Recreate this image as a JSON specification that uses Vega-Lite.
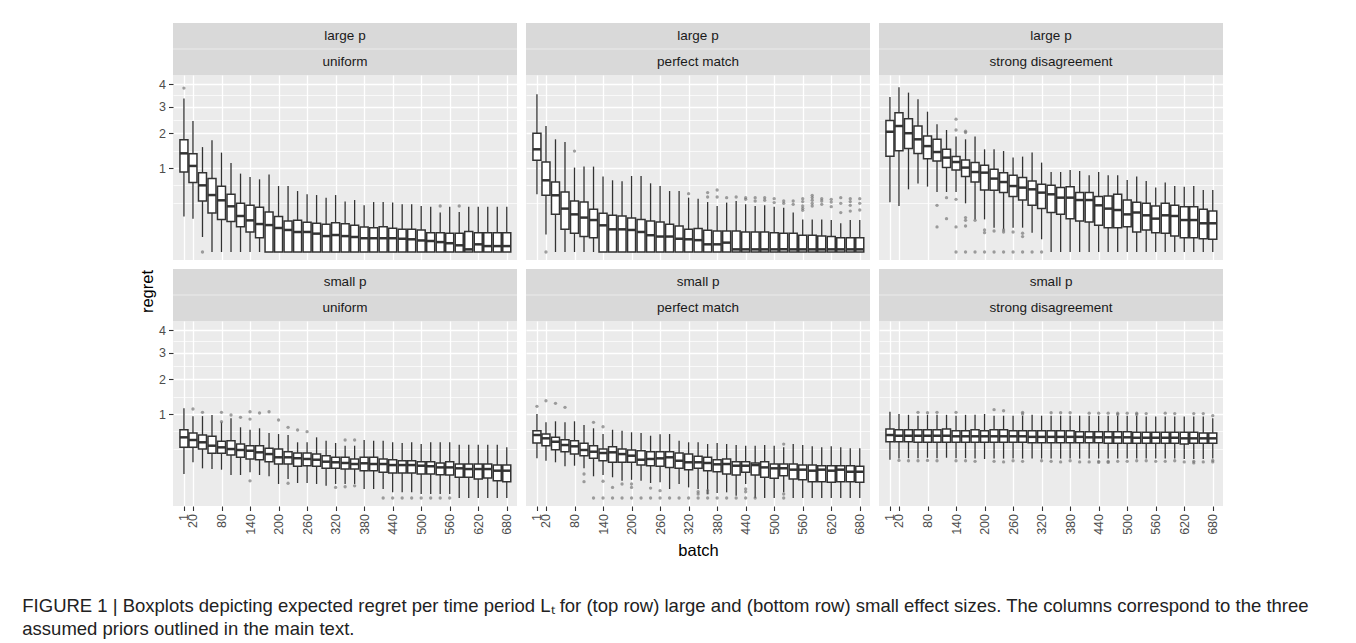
{
"$schema": "https://vega.github.io/schema/vega-lite/v6.json",
"background": "white",
"padding": {"left": 22, "top": 23, "right": 5, "bottom": 0},
"autosize": {"type": "pad"},
"title": {"text": ["FIGURE 1 | Boxplots depicting expected regret per time period Lₜ for (top row) large and (bottom row) small effect sizes. The columns correspond to the three", "assumed priors outlined in the main text."], "orient": "bottom", "anchor": "start", "frame": "group", "dx": -150.7, "offset": 38, "fontSize": 18.5, "fontWeight": "normal", "font": "Liberation Sans", "color": "#222222", "lineHeight": 23},
"datasets": {
"stats": [
{"panel":"LU","batch":1,"lo":0.178,"q1":0.907,"med":1.38,"q3":1.79,"hi":3.34},
{"panel":"LU","batch":20,"lo":0.158,"q1":0.683,"med":1.05,"q3":1.37,"hi":2.43},
{"panel":"LU","batch":40,"lo":0.032,"q1":0.369,"med":0.63,"q3":0.893,"hi":1.56},
{"panel":"LU","batch":60,"lo":0,"q1":0.216,"med":0.46,"q3":0.764,"hi":1.77},
{"panel":"LU","batch":80,"lo":0,"q1":0.151,"med":0.379,"q3":0.612,"hi":1.4},
{"panel":"LU","batch":100,"lo":0,"q1":0.131,"med":0.296,"q3":0.472,"hi":1.12},
{"panel":"LU","batch":120,"lo":0,"q1":0.091,"med":0.184,"q3":0.336,"hi":0.871},
{"panel":"LU","batch":140,"lo":0,"q1":0.057,"med":0.142,"q3":0.309,"hi":0.797},
{"panel":"LU","batch":160,"lo":0,"q1":0.029,"med":0.111,"q3":0.283,"hi":0.749},
{"panel":"LU","batch":180,"lo":0,"q1":0,"med":0.103,"q3":0.227,"hi":0.849},
{"panel":"LU","batch":200,"lo":0,"q1":0,"med":0.082,"q3":0.178,"hi":0.617},
{"panel":"LU","batch":220,"lo":0,"q1":0,"med":0.069,"q3":0.136,"hi":0.617},
{"panel":"LU","batch":240,"lo":0,"q1":0,"med":0.057,"q3":0.142,"hi":0.527},
{"panel":"LU","batch":260,"lo":0,"q1":0,"med":0.057,"q3":0.125,"hi":0.472},
{"panel":"LU","batch":280,"lo":0,"q1":0,"med":0.048,"q3":0.117,"hi":0.46},
{"panel":"LU","batch":300,"lo":0,"q1":0,"med":0.036,"q3":0.109,"hi":0.419},
{"panel":"LU","batch":320,"lo":0,"q1":0,"med":0.041,"q3":0.122,"hi":0.46},
{"panel":"LU","batch":340,"lo":0,"q1":0,"med":0.036,"q3":0.114,"hi":0.36},
{"panel":"LU","batch":360,"lo":0,"q1":0,"med":0.032,"q3":0.101,"hi":0.383},
{"panel":"LU","batch":380,"lo":0,"q1":0,"med":0.027,"q3":0.089,"hi":0.309},
{"panel":"LU","batch":400,"lo":0,"q1":0,"med":0.027,"q3":0.084,"hi":0.354},
{"panel":"LU","batch":420,"lo":0,"q1":0,"med":0.027,"q3":0.091,"hi":0.354},
{"panel":"LU","batch":440,"lo":0,"q1":0,"med":0.027,"q3":0.08,"hi":0.346},
{"panel":"LU","batch":460,"lo":0,"q1":0,"med":0.025,"q3":0.073,"hi":0.322},
{"panel":"LU","batch":480,"lo":0,"q1":0,"med":0.023,"q3":0.073,"hi":0.322},
{"panel":"LU","batch":500,"lo":0,"q1":0,"med":0.019,"q3":0.069,"hi":0.3},
{"panel":"LU","batch":520,"lo":0,"q1":0,"med":0.017,"q3":0.053,"hi":0.292},
{"panel":"LU","batch":540,"lo":0,"q1":0,"med":0.014,"q3":0.053,"hi":0.22},
{"panel":"LU","batch":560,"lo":0,"q1":0,"med":0.011,"q3":0.05,"hi":0.292},
{"panel":"LU","batch":580,"lo":0,"q1":0,"med":0.0064,"q3":0.05,"hi":0.227},
{"panel":"LU","batch":600,"lo":0,"q1":0,"med":0.001,"q3":0.059,"hi":0.292},
{"panel":"LU","batch":620,"lo":0,"q1":0,"med":0.0084,"q3":0.053,"hi":0.292},
{"panel":"LU","batch":640,"lo":0,"q1":0,"med":0.005,"q3":0.053,"hi":0.292},
{"panel":"LU","batch":660,"lo":0,"q1":0,"med":0.005,"q3":0.053,"hi":0.292},
{"panel":"LU","batch":680,"lo":0,"q1":0,"med":0.005,"q3":0.053,"hi":0.292},
{"panel":"LP","batch":1,"lo":0.472,"q1":1.192,"med":1.495,"q3":1.997,"hi":3.525},
{"panel":"LP","batch":20,"lo":0.044,"q1":0.456,"med":0.729,"q3":1.148,"hi":2.25},
{"panel":"LP","batch":40,"lo":0,"q1":0.201,"med":0.456,"q3":0.694,"hi":1.8},
{"panel":"LP","batch":60,"lo":0,"q1":0.073,"med":0.267,"q3":0.51,"hi":1.715},
{"panel":"LP","batch":80,"lo":0,"q1":0.05,"med":0.201,"q3":0.369,"hi":1.01},
{"panel":"LP","batch":100,"lo":0,"q1":0.034,"med":0.168,"q3":0.354,"hi":1.034},
{"panel":"LP","batch":120,"lo":0,"q1":0.029,"med":0.145,"q3":0.258,"hi":1.034},
{"panel":"LP","batch":140,"lo":0,"q1":0,"med":0.101,"q3":0.212,"hi":0.806},
{"panel":"LP","batch":160,"lo":0,"q1":0,"med":0.073,"q3":0.191,"hi":0.729},
{"panel":"LP","batch":180,"lo":0,"q1":0,"med":0.073,"q3":0.184,"hi":0.708},
{"panel":"LP","batch":200,"lo":0,"q1":0,"med":0.069,"q3":0.164,"hi":0.819},
{"panel":"LP","batch":220,"lo":0,"q1":0,"med":0.057,"q3":0.151,"hi":0.819},
{"panel":"LP","batch":240,"lo":0,"q1":0,"med":0.04,"q3":0.136,"hi":0.669},
{"panel":"LP","batch":260,"lo":0,"q1":0,"med":0.034,"q3":0.128,"hi":0.617},
{"panel":"LP","batch":280,"lo":0,"q1":0,"med":0.034,"q3":0.109,"hi":0.527},
{"panel":"LP","batch":300,"lo":0,"q1":0,"med":0.025,"q3":0.096,"hi":0.527},
{"panel":"LP","batch":320,"lo":0,"q1":0,"med":0.023,"q3":0.073,"hi":0.419},
{"panel":"LP","batch":340,"lo":0,"q1":0,"med":0.02,"q3":0.078,"hi":0.404},
{"panel":"LP","batch":360,"lo":0,"q1":0,"med":0.0084,"q3":0.067,"hi":0.354},
{"panel":"LP","batch":380,"lo":0,"q1":0,"med":0.0084,"q3":0.0625,"hi":0.3},
{"panel":"LP","batch":400,"lo":0,"q1":0,"med":0.0125,"q3":0.0625,"hi":0.346},
{"panel":"LP","batch":420,"lo":0,"q1":0,"med":0.001,"q3":0.0625,"hi":0.369},
{"panel":"LP","batch":440,"lo":0,"q1":0,"med":0.001,"q3":0.057,"hi":0.322},
{"panel":"LP","batch":460,"lo":0,"q1":0,"med":0.001,"q3":0.057,"hi":0.3},
{"panel":"LP","batch":480,"lo":0,"q1":0,"med":0.001,"q3":0.057,"hi":0.309},
{"panel":"LP","batch":500,"lo":0,"q1":0,"med":0.001,"q3":0.053,"hi":0.292},
{"panel":"LP","batch":520,"lo":0,"q1":0,"med":0.001,"q3":0.05,"hi":0.279},
{"panel":"LP","batch":540,"lo":0,"q1":0,"med":0.001,"q3":0.05,"hi":0.22},
{"panel":"LP","batch":560,"lo":0,"q1":0,"med":0.001,"q3":0.04,"hi":0.151},
{"panel":"LP","batch":580,"lo":0,"q1":0,"med":0.001,"q3":0.04,"hi":0.151},
{"panel":"LP","batch":600,"lo":0,"q1":0,"med":0.001,"q3":0.036,"hi":0.151},
{"panel":"LP","batch":620,"lo":0,"q1":0,"med":0.001,"q3":0.034,"hi":0.145},
{"panel":"LP","batch":640,"lo":0,"q1":0,"med":0.001,"q3":0.029,"hi":0.117},
{"panel":"LP","batch":660,"lo":0,"q1":0,"med":0.001,"q3":0.029,"hi":0.145},
{"panel":"LP","batch":680,"lo":0,"q1":0,"med":0.001,"q3":0.029,"hi":0.145},
{"panel":"LS","batch":1,"lo":0.35,"q1":1.3,"med":2.05,"q3":2.45,"hi":3.4},
{"panel":"LS","batch":20,"lo":0.3,"q1":1.45,"med":2.25,"q3":2.75,"hi":3.85},
{"panel":"LS","batch":40,"lo":0.557,"q1":1.515,"med":2.0,"q3":2.52,"hi":3.6},
{"panel":"LS","batch":60,"lo":0.663,"q1":1.372,"med":1.8,"q3":2.25,"hi":3.31},
{"panel":"LS","batch":80,"lo":0.606,"q1":1.236,"med":1.59,"q3":1.91,"hi":2.79},
{"panel":"LS","batch":100,"lo":0.51,"q1":1.174,"med":1.417,"q3":1.8,"hi":2.31},
{"panel":"LS","batch":120,"lo":0.51,"q1":1.01,"med":1.263,"q3":1.495,"hi":2.11},
{"panel":"LS","batch":140,"lo":0.51,"q1":0.953,"med":1.148,"q3":1.29,"hi":1.89},
{"panel":"LS","batch":160,"lo":0.336,"q1":0.806,"med":1.01,"q3":1.2,"hi":1.8},
{"panel":"LS","batch":180,"lo":0.151,"q1":0.694,"med":0.907,"q3":1.133,"hi":1.89},
{"panel":"LS","batch":200,"lo":0.151,"q1":0.545,"med":0.893,"q3":1.065,"hi":1.495},
{"panel":"LS","batch":220,"lo":0.084,"q1":0.54,"med":0.764,"q3":0.97,"hi":1.495},
{"panel":"LS","batch":240,"lo":0.073,"q1":0.5,"med":0.694,"q3":0.893,"hi":1.445},
{"panel":"LS","batch":260,"lo":0.084,"q1":0.435,"med":0.617,"q3":0.834,"hi":1.263},
{"panel":"LS","batch":280,"lo":0.084,"q1":0.383,"med":0.588,"q3":0.785,"hi":1.29},
{"panel":"LS","batch":300,"lo":0.053,"q1":0.309,"med":0.557,"q3":0.714,"hi":1.4},
{"panel":"LS","batch":320,"lo":0.023,"q1":0.267,"med":0.5,"q3":0.65,"hi":1.133},
{"panel":"LS","batch":340,"lo":0,"q1":0.22,"med":0.472,"q3":0.63,"hi":0.907},
{"panel":"LS","batch":360,"lo":0,"q1":0.201,"med":0.419,"q3":0.588,"hi":0.907},
{"panel":"LS","batch":380,"lo":0,"q1":0.158,"med":0.419,"q3":0.606,"hi":0.953},
{"panel":"LS","batch":400,"lo":0,"q1":0.136,"med":0.383,"q3":0.5,"hi":0.93},
{"panel":"LS","batch":420,"lo":0,"q1":0.128,"med":0.383,"q3":0.5,"hi":0.834},
{"panel":"LS","batch":440,"lo":0,"q1":0.101,"med":0.309,"q3":0.435,"hi":0.907},
{"panel":"LS","batch":460,"lo":0,"q1":0.084,"med":0.267,"q3":0.445,"hi":0.834},
{"panel":"LS","batch":480,"lo":0,"q1":0.084,"med":0.25,"q3":0.472,"hi":0.834},
{"panel":"LS","batch":500,"lo":0,"q1":0.091,"med":0.201,"q3":0.383,"hi":0.735},
{"panel":"LS","batch":520,"lo":0,"q1":0.057,"med":0.22,"q3":0.35,"hi":0.806},
{"panel":"LS","batch":540,"lo":0,"q1":0.069,"med":0.191,"q3":0.336,"hi":0.714},
{"panel":"LS","batch":560,"lo":0,"q1":0.053,"med":0.158,"q3":0.3,"hi":0.588},
{"panel":"LS","batch":580,"lo":0,"q1":0.05,"med":0.191,"q3":0.336,"hi":0.683},
{"panel":"LS","batch":600,"lo":0,"q1":0.036,"med":0.184,"q3":0.309,"hi":0.617},
{"panel":"LS","batch":620,"lo":0,"q1":0.029,"med":0.145,"q3":0.292,"hi":0.606},
{"panel":"LS","batch":640,"lo":0,"q1":0.029,"med":0.145,"q3":0.292,"hi":0.617},
{"panel":"LS","batch":660,"lo":0,"q1":0.025,"med":0.117,"q3":0.258,"hi":0.545},
{"panel":"LS","batch":680,"lo":0,"q1":0.023,"med":0.117,"q3":0.238,"hi":0.545},
{"panel":"SU","batch":1,"lo":0.082,"q1":0.364,"med":0.522,"q3":0.661,"hi":1.14},
{"panel":"SU","batch":20,"lo":0.181,"q1":0.364,"med":0.477,"q3":0.599,"hi":0.946},
{"panel":"SU","batch":40,"lo":0.125,"q1":0.34,"med":0.44,"q3":0.5625,"hi":0.95},
{"panel":"SU","batch":60,"lo":0.119,"q1":0.283,"med":0.388,"q3":0.54,"hi":0.976},
{"panel":"SU","batch":80,"lo":0.114,"q1":0.283,"med":0.364,"q3":0.456,"hi":0.812},
{"panel":"SU","batch":100,"lo":0.075,"q1":0.262,"med":0.34,"q3":0.465,"hi":0.9},
{"panel":"SU","batch":120,"lo":0.075,"q1":0.235,"med":0.327,"q3":0.413,"hi":0.709},
{"panel":"SU","batch":140,"lo":0.094,"q1":0.216,"med":0.317,"q3":0.388,"hi":0.661},
{"panel":"SU","batch":160,"lo":0.075,"q1":0.208,"med":0.296,"q3":0.388,"hi":0.689},
{"panel":"SU","batch":180,"lo":0.067,"q1":0.187,"med":0.274,"q3":0.35,"hi":0.599},
{"panel":"SU","batch":200,"lo":0.028,"q1":0.164,"med":0.235,"q3":0.34,"hi":0.58},
{"panel":"SU","batch":220,"lo":0.051,"q1":0.164,"med":0.235,"q3":0.304,"hi":0.5625},
{"panel":"SU","batch":240,"lo":0.032,"q1":0.142,"med":0.223,"q3":0.287,"hi":0.44},
{"panel":"SU","batch":260,"lo":0.032,"q1":0.148,"med":0.216,"q3":0.287,"hi":0.44},
{"panel":"SU","batch":280,"lo":0.028,"q1":0.142,"med":0.208,"q3":0.274,"hi":0.522},
{"panel":"SU","batch":300,"lo":0.021,"q1":0.125,"med":0.187,"q3":0.254,"hi":0.465},
{"panel":"SU","batch":320,"lo":0.028,"q1":0.125,"med":0.181,"q3":0.235,"hi":0.429},
{"panel":"SU","batch":340,"lo":0.028,"q1":0.119,"med":0.174,"q3":0.235,"hi":0.388},
{"panel":"SU","batch":360,"lo":0.028,"q1":0.119,"med":0.164,"q3":0.216,"hi":0.388},
{"panel":"SU","batch":380,"lo":0.0115,"q1":0.106,"med":0.171,"q3":0.235,"hi":0.477},
{"panel":"SU","batch":400,"lo":0.0115,"q1":0.106,"med":0.164,"q3":0.235,"hi":0.465},
{"panel":"SU","batch":420,"lo":0.0115,"q1":0.094,"med":0.164,"q3":0.216,"hi":0.465},
{"panel":"SU","batch":440,"lo":0.0046,"q1":0.089,"med":0.154,"q3":0.208,"hi":0.44},
{"panel":"SU","batch":460,"lo":0.0046,"q1":0.089,"med":0.154,"q3":0.197,"hi":0.429},
{"panel":"SU","batch":480,"lo":0.0046,"q1":0.089,"med":0.154,"q3":0.197,"hi":0.44},
{"panel":"SU","batch":500,"lo":0.0023,"q1":0.082,"med":0.148,"q3":0.187,"hi":0.413},
{"panel":"SU","batch":520,"lo":0.0023,"q1":0.082,"med":0.142,"q3":0.187,"hi":0.44},
{"panel":"SU","batch":540,"lo":0.0023,"q1":0.077,"med":0.133,"q3":0.174,"hi":0.44},
{"panel":"SU","batch":560,"lo":0.0023,"q1":0.075,"med":0.133,"q3":0.187,"hi":0.44},
{"panel":"SU","batch":580,"lo":0,"q1":0.061,"med":0.125,"q3":0.164,"hi":0.403},
{"panel":"SU","batch":600,"lo":0,"q1":0.061,"med":0.119,"q3":0.164,"hi":0.403},
{"panel":"SU","batch":620,"lo":0,"q1":0.051,"med":0.119,"q3":0.164,"hi":0.403},
{"panel":"SU","batch":640,"lo":0,"q1":0.057,"med":0.119,"q3":0.164,"hi":0.403},
{"panel":"SU","batch":660,"lo":0,"q1":0.042,"med":0.106,"q3":0.154,"hi":0.403},
{"panel":"SU","batch":680,"lo":0,"q1":0.038,"med":0.106,"q3":0.154,"hi":0.364},
{"panel":"SP","batch":1,"lo":0.223,"q1":0.429,"med":0.5625,"q3":0.642,"hi":1.0},
{"panel":"SP","batch":20,"lo":0.197,"q1":0.388,"med":0.505,"q3":0.58,"hi":0.812},
{"panel":"SP","batch":40,"lo":0.181,"q1":0.331,"med":0.449,"q3":0.522,"hi":0.834},
{"panel":"SP","batch":60,"lo":0.142,"q1":0.304,"med":0.398,"q3":0.482,"hi":0.812},
{"panel":"SP","batch":80,"lo":0.148,"q1":0.274,"med":0.379,"q3":0.465,"hi":0.834},
{"panel":"SP","batch":100,"lo":0.125,"q1":0.254,"med":0.327,"q3":0.424,"hi":0.755},
{"panel":"SP","batch":120,"lo":0.067,"q1":0.223,"med":0.304,"q3":0.388,"hi":0.689},
{"panel":"SP","batch":140,"lo":0.075,"q1":0.197,"med":0.287,"q3":0.34,"hi":0.58},
{"panel":"SP","batch":160,"lo":0.061,"q1":0.181,"med":0.296,"q3":0.373,"hi":0.661},
{"panel":"SP","batch":180,"lo":0.042,"q1":0.181,"med":0.274,"q3":0.34,"hi":0.642},
{"panel":"SP","batch":200,"lo":0.047,"q1":0.181,"med":0.254,"q3":0.327,"hi":0.612},
{"panel":"SP","batch":220,"lo":0.042,"q1":0.154,"med":0.208,"q3":0.317,"hi":0.599},
{"panel":"SP","batch":240,"lo":0.032,"q1":0.148,"med":0.216,"q3":0.304,"hi":0.55},
{"panel":"SP","batch":260,"lo":0.035,"q1":0.142,"med":0.223,"q3":0.304,"hi":0.575},
{"panel":"SP","batch":280,"lo":0.0115,"q1":0.133,"med":0.235,"q3":0.304,"hi":0.58},
{"panel":"SP","batch":300,"lo":0.028,"q1":0.125,"med":0.197,"q3":0.287,"hi":0.465},
{"panel":"SP","batch":320,"lo":0.016,"q1":0.114,"med":0.181,"q3":0.274,"hi":0.44},
{"panel":"SP","batch":340,"lo":0.0115,"q1":0.125,"med":0.181,"q3":0.246,"hi":0.44},
{"panel":"SP","batch":360,"lo":0.0023,"q1":0.106,"med":0.174,"q3":0.235,"hi":0.413},
{"panel":"SP","batch":380,"lo":0.0035,"q1":0.098,"med":0.161,"q3":0.208,"hi":0.429},
{"panel":"SP","batch":400,"lo":0.0046,"q1":0.082,"med":0.164,"q3":0.216,"hi":0.413},
{"panel":"SP","batch":420,"lo":0.0007,"q1":0.075,"med":0.148,"q3":0.187,"hi":0.398},
{"panel":"SP","batch":440,"lo":0.028,"q1":0.094,"med":0.148,"q3":0.187,"hi":0.388},
{"panel":"SP","batch":460,"lo":0,"q1":0.075,"med":0.154,"q3":0.174,"hi":0.388},
{"panel":"SP","batch":480,"lo":0,"q1":0.061,"med":0.133,"q3":0.187,"hi":0.398},
{"panel":"SP","batch":500,"lo":0,"q1":0.055,"med":0.125,"q3":0.164,"hi":0.388},
{"panel":"SP","batch":520,"lo":0.0046,"q1":0.07,"med":0.125,"q3":0.164,"hi":0.364},
{"panel":"SP","batch":540,"lo":0,"q1":0.051,"med":0.114,"q3":0.164,"hi":0.413},
{"panel":"SP","batch":560,"lo":0,"q1":0.047,"med":0.114,"q3":0.154,"hi":0.398},
{"panel":"SP","batch":580,"lo":0,"q1":0.038,"med":0.106,"q3":0.154,"hi":0.379},
{"panel":"SP","batch":600,"lo":0,"q1":0.038,"med":0.114,"q3":0.148,"hi":0.364},
{"panel":"SP","batch":620,"lo":0,"q1":0.035,"med":0.106,"q3":0.148,"hi":0.379},
{"panel":"SP","batch":640,"lo":0,"q1":0.038,"med":0.114,"q3":0.148,"hi":0.364},
{"panel":"SP","batch":660,"lo":0,"q1":0.038,"med":0.098,"q3":0.148,"hi":0.35},
{"panel":"SP","batch":680,"lo":0,"q1":0.035,"med":0.098,"q3":0.142,"hi":0.35},
{"panel":"SS","batch":1,"lo":0.208,"q1":0.449,"med":0.5625,"q3":0.675,"hi":1.055},
{"panel":"SS","batch":20,"lo":0.22,"q1":0.449,"med":0.55,"q3":0.661,"hi":1.0},
{"panel":"SS","batch":40,"lo":0.225,"q1":0.449,"med":0.55,"q3":0.661,"hi":0.98},
{"panel":"SS","batch":60,"lo":0.225,"q1":0.44,"med":0.55,"q3":0.661,"hi":0.96},
{"panel":"SS","batch":80,"lo":0.23,"q1":0.44,"med":0.55,"q3":0.661,"hi":0.98},
{"panel":"SS","batch":100,"lo":0.225,"q1":0.44,"med":0.55,"q3":0.661,"hi":0.98},
{"panel":"SS","batch":120,"lo":0.23,"q1":0.44,"med":0.55,"q3":0.675,"hi":0.98},
{"panel":"SS","batch":140,"lo":0.225,"q1":0.44,"med":0.54,"q3":0.642,"hi":0.96},
{"panel":"SS","batch":160,"lo":0.225,"q1":0.44,"med":0.54,"q3":0.642,"hi":0.98},
{"panel":"SS","batch":180,"lo":0.22,"q1":0.44,"med":0.54,"q3":0.661,"hi":0.98},
{"panel":"SS","batch":200,"lo":0.216,"q1":0.44,"med":0.54,"q3":0.642,"hi":1.0},
{"panel":"SS","batch":220,"lo":0.22,"q1":0.44,"med":0.54,"q3":0.661,"hi":0.96},
{"panel":"SS","batch":240,"lo":0.22,"q1":0.44,"med":0.54,"q3":0.661,"hi":0.96},
{"panel":"SS","batch":260,"lo":0.22,"q1":0.44,"med":0.54,"q3":0.642,"hi":0.96},
{"panel":"SS","batch":280,"lo":0.22,"q1":0.44,"med":0.54,"q3":0.642,"hi":0.96},
{"panel":"SS","batch":300,"lo":0.22,"q1":0.432,"med":0.53,"q3":0.642,"hi":0.98},
{"panel":"SS","batch":320,"lo":0.22,"q1":0.432,"med":0.53,"q3":0.642,"hi":0.96},
{"panel":"SS","batch":340,"lo":0.22,"q1":0.432,"med":0.53,"q3":0.642,"hi":0.96},
{"panel":"SS","batch":360,"lo":0.22,"q1":0.432,"med":0.53,"q3":0.642,"hi":0.96},
{"panel":"SS","batch":380,"lo":0.22,"q1":0.432,"med":0.53,"q3":0.642,"hi":0.96},
{"panel":"SS","batch":400,"lo":0.22,"q1":0.432,"med":0.53,"q3":0.623,"hi":0.96},
{"panel":"SS","batch":420,"lo":0.22,"q1":0.432,"med":0.522,"q3":0.623,"hi":0.96},
{"panel":"SS","batch":440,"lo":0.22,"q1":0.432,"med":0.522,"q3":0.623,"hi":0.96},
{"panel":"SS","batch":460,"lo":0.22,"q1":0.424,"med":0.522,"q3":0.623,"hi":0.96},
{"panel":"SS","batch":480,"lo":0.22,"q1":0.424,"med":0.522,"q3":0.623,"hi":0.96},
{"panel":"SS","batch":500,"lo":0.22,"q1":0.424,"med":0.522,"q3":0.623,"hi":0.96},
{"panel":"SS","batch":520,"lo":0.22,"q1":0.424,"med":0.515,"q3":0.612,"hi":0.96},
{"panel":"SS","batch":540,"lo":0.22,"q1":0.424,"med":0.515,"q3":0.612,"hi":0.94},
{"panel":"SS","batch":560,"lo":0.22,"q1":0.424,"med":0.515,"q3":0.612,"hi":0.94},
{"panel":"SS","batch":580,"lo":0.22,"q1":0.424,"med":0.515,"q3":0.612,"hi":0.94},
{"panel":"SS","batch":600,"lo":0.22,"q1":0.424,"med":0.515,"q3":0.612,"hi":0.94},
{"panel":"SS","batch":620,"lo":0.215,"q1":0.415,"med":0.505,"q3":0.612,"hi":0.94},
{"panel":"SS","batch":640,"lo":0.215,"q1":0.424,"med":0.505,"q3":0.612,"hi":0.94},
{"panel":"SS","batch":660,"lo":0.215,"q1":0.424,"med":0.505,"q3":0.599,"hi":0.94},
{"panel":"SS","batch":680,"lo":0.22,"q1":0.424,"med":0.505,"q3":0.599,"hi":0.9}
],
"outliers": [
{"panel":"LU","batch":1,"v":3.81},{"panel":"LU","batch":40,"v":0},{"panel":"LU","batch":540,"v":0.3},{"panel":"LU","batch":580,"v":0.3},
{"panel":"LP","batch":20,"v":0},{"panel":"LP","batch":80,"v":1.445},{"panel":"LP","batch":320,"v":0.483},
{"panel":"LP","batch":360,"v":0.5},{"panel":"LP","batch":360,"v":0.429},{"panel":"LP","batch":380,"v":0.545},{"panel":"LP","batch":380,"v":0.429},
{"panel":"LP","batch":400,"v":0.419},{"panel":"LP","batch":420,"v":0.429},{"panel":"LP","batch":440,"v":0.419},{"panel":"LP","batch":440,"v":0.393},
{"panel":"LP","batch":460,"v":0.419},{"panel":"LP","batch":460,"v":0.369},{"panel":"LP","batch":480,"v":0.419},{"panel":"LP","batch":480,"v":0.38},
{"panel":"LP","batch":500,"v":0.404},{"panel":"LP","batch":500,"v":0.346},{"panel":"LP","batch":520,"v":0.369},{"panel":"LP","batch":520,"v":0.336},
{"panel":"LP","batch":540,"v":0.369},{"panel":"LP","batch":540,"v":0.322},
{"panel":"LP","batch":560,"v":0.404},{"panel":"LP","batch":560,"v":0.36},{"panel":"LP","batch":560,"v":0.3},{"panel":"LP","batch":560,"v":0.27},{"panel":"LP","batch":560,"v":0.246},
{"panel":"LP","batch":580,"v":0.456},{"panel":"LP","batch":580,"v":0.42},{"panel":"LP","batch":580,"v":0.38},{"panel":"LP","batch":580,"v":0.336},{"panel":"LP","batch":580,"v":0.3},
{"panel":"LP","batch":600,"v":0.404},{"panel":"LP","batch":600,"v":0.369},{"panel":"LP","batch":600,"v":0.322},
{"panel":"LP","batch":620,"v":0.393},{"panel":"LP","batch":620,"v":0.354},{"panel":"LP","batch":620,"v":0.292},
{"panel":"LP","batch":640,"v":0.419},{"panel":"LP","batch":640,"v":0.336},{"panel":"LP","batch":640,"v":0.22},
{"panel":"LP","batch":660,"v":0.404},{"panel":"LP","batch":660,"v":0.36},{"panel":"LP","batch":660,"v":0.309},{"panel":"LP","batch":660,"v":0.238},
{"panel":"LP","batch":680,"v":0.404},{"panel":"LP","batch":680,"v":0.336},{"panel":"LP","batch":680,"v":0.25},
{"panel":"LS","batch":100,"v":0.309},{"panel":"LS","batch":100,"v":0.089},{"panel":"LS","batch":120,"v":0.419},{"panel":"LS","batch":120,"v":0.158},
{"panel":"LS","batch":140,"v":2.5},{"panel":"LS","batch":140,"v":2.11},{"panel":"LS","batch":140,"v":0.393},{"panel":"LS","batch":140,"v":0.089},{"panel":"LS","batch":140,"v":0},
{"panel":"LS","batch":160,"v":2.07},{"panel":"LS","batch":160,"v":2.02},{"panel":"LS","batch":160,"v":0.168},{"panel":"LS","batch":160,"v":0.142},{"panel":"LS","batch":160,"v":0.096},{"panel":"LS","batch":160,"v":0},
{"panel":"LS","batch":180,"v":0.142},{"panel":"LS","batch":180,"v":0},{"panel":"LS","batch":200,"v":0.069},{"panel":"LS","batch":200,"v":0.053},{"panel":"LS","batch":200,"v":0},
{"panel":"LS","batch":220,"v":0.0625},{"panel":"LS","batch":220,"v":0},{"panel":"LS","batch":240,"v":0.069},{"panel":"LS","batch":240,"v":0.057},{"panel":"LS","batch":240,"v":0},
{"panel":"LS","batch":260,"v":0.057},{"panel":"LS","batch":260,"v":0},{"panel":"LS","batch":280,"v":0.05},{"panel":"LS","batch":280,"v":0.034},{"panel":"LS","batch":280,"v":0},
{"panel":"LS","batch":300,"v":0},{"panel":"LS","batch":320,"v":0},
{"panel":"SU","batch":20,"v":1.123},{"panel":"SU","batch":40,"v":1.041},{"panel":"SU","batch":80,"v":1.041},{"panel":"SU","batch":80,"v":0.825},
{"panel":"SU","batch":100,"v":0.976},{"panel":"SU","batch":120,"v":0.923},{"panel":"SU","batch":140,"v":1.055},{"panel":"SU","batch":140,"v":0.884},{"panel":"SU","batch":140,"v":0.042},
{"panel":"SU","batch":160,"v":1.024},{"panel":"SU","batch":180,"v":1.055},{"panel":"SU","batch":200,"v":0.862},{"panel":"SU","batch":220,"v":0.709},{"panel":"SU","batch":220,"v":0.031},
{"panel":"SU","batch":240,"v":0.656},{"panel":"SU","batch":260,"v":0.623},{"panel":"SU","batch":320,"v":0.016},{"panel":"SU","batch":340,"v":0.477},{"panel":"SU","batch":340,"v":0.018},
{"panel":"SU","batch":360,"v":0.477},{"panel":"SU","batch":360,"v":0.021},
{"panel":"SU","batch":420,"v":0},{"panel":"SU","batch":440,"v":0},{"panel":"SU","batch":460,"v":0},{"panel":"SU","batch":480,"v":0},{"panel":"SU","batch":500,"v":0},{"panel":"SU","batch":520,"v":0},{"panel":"SU","batch":540,"v":0},{"panel":"SU","batch":560,"v":0},
{"panel":"SP","batch":1,"v":1.192},{"panel":"SP","batch":20,"v":1.341},{"panel":"SP","batch":40,"v":1.271},{"panel":"SP","batch":60,"v":1.166},
{"panel":"SP","batch":100,"v":0.082},{"panel":"SP","batch":100,"v":0.038},{"panel":"SP","batch":120,"v":0.812},{"panel":"SP","batch":120,"v":0},
{"panel":"SP","batch":140,"v":0.72},{"panel":"SP","batch":140,"v":0.04},{"panel":"SP","batch":140,"v":0},{"panel":"SP","batch":160,"v":0.016},{"panel":"SP","batch":160,"v":0},
{"panel":"SP","batch":180,"v":0.028},{"panel":"SP","batch":180,"v":0},{"panel":"SP","batch":200,"v":0.028},{"panel":"SP","batch":200,"v":0.016},{"panel":"SP","batch":200,"v":0},
{"panel":"SP","batch":220,"v":0},{"panel":"SP","batch":240,"v":0.014},{"panel":"SP","batch":240,"v":0},{"panel":"SP","batch":260,"v":0.0076},{"panel":"SP","batch":260,"v":0},
{"panel":"SP","batch":280,"v":0},{"panel":"SP","batch":300,"v":0},{"panel":"SP","batch":320,"v":0},
{"panel":"SP","batch":340,"v":0.0056},{"panel":"SP","batch":340,"v":0.0023},{"panel":"SP","batch":340,"v":0},
{"panel":"SP","batch":360,"v":0.0076},{"panel":"SP","batch":360,"v":0.0035},{"panel":"SP","batch":360,"v":0},
{"panel":"SP","batch":380,"v":0},{"panel":"SP","batch":400,"v":0},{"panel":"SP","batch":420,"v":0},
{"panel":"SP","batch":440,"v":0.0115},{"panel":"SP","batch":440,"v":0.0056},{"panel":"SP","batch":440,"v":0},{"panel":"SP","batch":460,"v":0},
{"panel":"SP","batch":520,"v":0.413},{"panel":"SP","batch":520,"v":0.0023},{"panel":"SP","batch":520,"v":0},
{"panel":"SS","batch":20,"v":0.2},{"panel":"SS","batch":40,"v":0.197},{"panel":"SS","batch":60,"v":1.041},{"panel":"SS","batch":60,"v":0.197},
{"panel":"SS","batch":80,"v":1.03},{"panel":"SS","batch":80,"v":0.2},{"panel":"SS","batch":100,"v":1.041},{"panel":"SS","batch":100,"v":0.197},
{"panel":"SS","batch":140,"v":1.041},{"panel":"SS","batch":140,"v":0.197},{"panel":"SS","batch":160,"v":0.197},{"panel":"SS","batch":180,"v":0.191},
{"panel":"SS","batch":220,"v":1.105},{"panel":"SS","batch":220,"v":0.191},{"panel":"SS","batch":240,"v":1.08},{"panel":"SS","batch":240,"v":0.185},
{"panel":"SS","batch":260,"v":0.197},{"panel":"SS","batch":280,"v":1.041},{"panel":"SS","batch":280,"v":1.0},{"panel":"SS","batch":280,"v":0.191},
{"panel":"SS","batch":320,"v":0.197},{"panel":"SS","batch":340,"v":1.03},{"panel":"SS","batch":340,"v":0.191},{"panel":"SS","batch":360,"v":1.03},{"panel":"SS","batch":360,"v":0.185},
{"panel":"SS","batch":380,"v":1.03},{"panel":"SS","batch":380,"v":0.197},{"panel":"SS","batch":400,"v":0.185},{"panel":"SS","batch":420,"v":1.02},{"panel":"SS","batch":420,"v":0.185},
{"panel":"SS","batch":440,"v":1.02},{"panel":"SS","batch":440,"v":0.191},{"panel":"SS","batch":440,"v":0.18},{"panel":"SS","batch":460,"v":1.02},{"panel":"SS","batch":460,"v":0.191},{"panel":"SS","batch":460,"v":0.18},
{"panel":"SS","batch":480,"v":1.02},{"panel":"SS","batch":480,"v":0.99},{"panel":"SS","batch":480,"v":0.191},{"panel":"SS","batch":500,"v":1.02},{"panel":"SS","batch":500,"v":0.191},
{"panel":"SS","batch":520,"v":1.02},{"panel":"SS","batch":520,"v":0.99},{"panel":"SS","batch":520,"v":0.197},{"panel":"SS","batch":540,"v":1.01},{"panel":"SS","batch":540,"v":0.197},
{"panel":"SS","batch":560,"v":0.191},{"panel":"SS","batch":580,"v":1.02},{"panel":"SS","batch":580,"v":0.191},{"panel":"SS","batch":600,"v":1.01},{"panel":"SS","batch":600,"v":0.197},
{"panel":"SS","batch":620,"v":0.185},{"panel":"SS","batch":640,"v":1.01},{"panel":"SS","batch":640,"v":0.191},{"panel":"SS","batch":640,"v":0.175},
{"panel":"SS","batch":660,"v":1.01},{"panel":"SS","batch":660,"v":0.185},{"panel":"SS","batch":680,"v":0.96},{"panel":"SS","batch":680,"v":0.2},{"panel":"SS","batch":680,"v":0.185}
]
},
"spacing": 9,
"vconcat": [
{"align": "none", "spacing": 9, "hconcat": [
 {"spacing": 0, "vconcat": [
  {"width": 344, "height": 52, "view": {"fill": "#EAEAEA", "stroke": null},
   "data": {"values": [{"line": 1, "label": "large p"}, {"line": 2, "label": "uniform"}]},
   "layer": [
    {"mark": {"type": "rect", "fill": "#D9D9D9"}, "encoding": {"y": {"field": "line", "type": "ordinal", "axis": null, "scale": {"paddingInner": 0.03, "paddingOuter": 0}}}},
    {"mark": {"type": "text", "fontSize": 13.5, "color": "#1A1A1A", "font": "Liberation Sans"}, "encoding": {"y": {"field": "line", "type": "ordinal", "axis": null}, "text": {"field": "label"}}}
   ]},
  {"width": 344, "height": 185, "view": {"fill": "#EBEBEB", "stroke": null},
   "resolve": {"axis": {"y": "independent"}},
   "layer": [
    {"data": {"name": "stats"}, "transform": [{"filter": {"field": "panel", "equal": "LU"}}],
     "mark": {"type": "rule", "color": "#333333", "strokeWidth": 1.3},
     "encoding": {
      "x": {"field": "batch", "type": "quantitative", "scale": {"domain": [-11.5, 691], "nice": false, "zero": false},
            "axis": {"values": [1,20,80,140,200,260,320,380,440,500,560,620,680], "grid": true, "labels": false, "ticks": false, "title": null}},
      "y": {"field": "lo", "type": "quantitative", "scale": {"type": "sqrt", "domain": [-0.009, 4.44], "nice": false, "zero": false},
            "axis": {"orient": "left", "values": [1,2,3,4], "grid": true, "title": null}},
      "y2": {"field": "hi"}}},
    {"data": {"name": "stats"}, "transform": [{"filter": {"field": "panel", "equal": "LU"}}],
     "mark": {"type": "bar", "size": 8, "fill": "white", "stroke": "#333333", "strokeWidth": 1.5},
     "encoding": {"x": {"field": "batch", "type": "quantitative", "axis": {"values": [1,20,80,140,200,260,320,380,440,500,560,620,680], "grid": true, "labels": false, "ticks": false, "title": null}},
      "y": {"field": "q1", "type": "quantitative", "axis": {"orient": "left", "values": [0.343,0.629,1.457,2.474,3.482], "grid": true, "gridWidth": 0.7, "labels": false, "ticks": false, "title": null}},
      "y2": {"field": "q3"}}},
    {"data": {"name": "stats"}, "transform": [{"filter": {"field": "panel", "equal": "LU"}}],
     "mark": {"type": "tick", "orient": "horizontal", "size": 8, "thickness": 2.5, "color": "#333333", "opacity": 1},
     "encoding": {"x": {"field": "batch", "type": "quantitative", "axis": {"values": [1,20,80,140,200,260,320,380,440,500,560,620,680], "grid": true, "labels": false, "ticks": false, "title": null}}, "y": {"field": "med", "type": "quantitative", "axis": null}}},
    {"data": {"name": "outliers"}, "transform": [{"filter": {"field": "panel", "equal": "LU"}}],
     "mark": {"type": "circle", "size": 11, "color": "#6f6f6f", "opacity": 0.65},
     "encoding": {"x": {"field": "batch", "type": "quantitative", "axis": {"values": [1,20,80,140,200,260,320,380,440,500,560,620,680], "grid": true, "labels": false, "ticks": false, "title": null}}, "y": {"field": "v", "type": "quantitative", "axis": null}}}
   ]}
 ]},
 {"spacing": 0, "vconcat": [
  {"width": 344, "height": 52, "view": {"fill": "#EAEAEA", "stroke": null},
   "data": {"values": [{"line": 1, "label": "large p"}, {"line": 2, "label": "perfect match"}]},
   "layer": [
    {"mark": {"type": "rect", "fill": "#D9D9D9"}, "encoding": {"y": {"field": "line", "type": "ordinal", "axis": null, "scale": {"paddingInner": 0.03, "paddingOuter": 0}}}},
    {"mark": {"type": "text", "fontSize": 13.5, "color": "#1A1A1A", "font": "Liberation Sans"}, "encoding": {"y": {"field": "line", "type": "ordinal", "axis": null}, "text": {"field": "label"}}}
   ]},
  {"width": 344, "height": 185, "view": {"fill": "#EBEBEB", "stroke": null},
   "resolve": {"axis": {"y": "independent"}},
   "layer": [
    {"data": {"name": "stats"}, "transform": [{"filter": {"field": "panel", "equal": "LP"}}],
     "mark": {"type": "rule", "color": "#333333", "strokeWidth": 1.3},
     "encoding": {
      "x": {"field": "batch", "type": "quantitative", "scale": {"domain": [-11.5, 691], "nice": false, "zero": false},
            "axis": {"values": [1,20,80,140,200,260,320,380,440,500,560,620,680], "grid": true, "labels": false, "ticks": false, "title": null}},
      "y": {"field": "lo", "type": "quantitative", "scale": {"type": "sqrt", "domain": [-0.009, 4.44], "nice": false, "zero": false},
            "axis": {"orient": "left", "values": [1,2,3,4], "grid": true, "labels": false, "ticks": false, "title": null}},
      "y2": {"field": "hi"}}},
    {"data": {"name": "stats"}, "transform": [{"filter": {"field": "panel", "equal": "LP"}}],
     "mark": {"type": "bar", "size": 8, "fill": "white", "stroke": "#333333", "strokeWidth": 1.5},
     "encoding": {"x": {"field": "batch", "type": "quantitative", "axis": {"values": [1,20,80,140,200,260,320,380,440,500,560,620,680], "grid": true, "labels": false, "ticks": false, "title": null}},
      "y": {"field": "q1", "type": "quantitative", "axis": {"orient": "left", "values": [0.343,0.629,1.457,2.474,3.482], "grid": true, "gridWidth": 0.7, "labels": false, "ticks": false, "title": null}},
      "y2": {"field": "q3"}}},
    {"data": {"name": "stats"}, "transform": [{"filter": {"field": "panel", "equal": "LP"}}],
     "mark": {"type": "tick", "orient": "horizontal", "size": 8, "thickness": 2.5, "color": "#333333", "opacity": 1},
     "encoding": {"x": {"field": "batch", "type": "quantitative", "axis": {"values": [1,20,80,140,200,260,320,380,440,500,560,620,680], "grid": true, "labels": false, "ticks": false, "title": null}}, "y": {"field": "med", "type": "quantitative", "axis": null}}},
    {"data": {"name": "outliers"}, "transform": [{"filter": {"field": "panel", "equal": "LP"}}],
     "mark": {"type": "circle", "size": 11, "color": "#6f6f6f", "opacity": 0.65},
     "encoding": {"x": {"field": "batch", "type": "quantitative", "axis": {"values": [1,20,80,140,200,260,320,380,440,500,560,620,680], "grid": true, "labels": false, "ticks": false, "title": null}}, "y": {"field": "v", "type": "quantitative", "axis": null}}}
   ]}
 ]},
 {"spacing": 0, "vconcat": [
  {"width": 344, "height": 52, "view": {"fill": "#EAEAEA", "stroke": null},
   "data": {"values": [{"line": 1, "label": "large p"}, {"line": 2, "label": "strong disagreement"}]},
   "layer": [
    {"mark": {"type": "rect", "fill": "#D9D9D9"}, "encoding": {"y": {"field": "line", "type": "ordinal", "axis": null, "scale": {"paddingInner": 0.03, "paddingOuter": 0}}}},
    {"mark": {"type": "text", "fontSize": 13.5, "color": "#1A1A1A", "font": "Liberation Sans"}, "encoding": {"y": {"field": "line", "type": "ordinal", "axis": null}, "text": {"field": "label"}}}
   ]},
  {"width": 344, "height": 185, "view": {"fill": "#EBEBEB", "stroke": null},
   "resolve": {"axis": {"y": "independent"}},
   "layer": [
    {"data": {"name": "stats"}, "transform": [{"filter": {"field": "panel", "equal": "LS"}}],
     "mark": {"type": "rule", "color": "#333333", "strokeWidth": 1.3},
     "encoding": {
      "x": {"field": "batch", "type": "quantitative", "scale": {"domain": [-11.5, 691], "nice": false, "zero": false},
            "axis": {"values": [1,20,80,140,200,260,320,380,440,500,560,620,680], "grid": true, "labels": false, "ticks": false, "title": null}},
      "y": {"field": "lo", "type": "quantitative", "scale": {"type": "sqrt", "domain": [-0.009, 4.44], "nice": false, "zero": false},
            "axis": {"orient": "left", "values": [1,2,3,4], "grid": true, "labels": false, "ticks": false, "title": null}},
      "y2": {"field": "hi"}}},
    {"data": {"name": "stats"}, "transform": [{"filter": {"field": "panel", "equal": "LS"}}],
     "mark": {"type": "bar", "size": 8, "fill": "white", "stroke": "#333333", "strokeWidth": 1.5},
     "encoding": {"x": {"field": "batch", "type": "quantitative", "axis": {"values": [1,20,80,140,200,260,320,380,440,500,560,620,680], "grid": true, "labels": false, "ticks": false, "title": null}},
      "y": {"field": "q1", "type": "quantitative", "axis": {"orient": "left", "values": [0.343,0.629,1.457,2.474,3.482], "grid": true, "gridWidth": 0.7, "labels": false, "ticks": false, "title": null}},
      "y2": {"field": "q3"}}},
    {"data": {"name": "stats"}, "transform": [{"filter": {"field": "panel", "equal": "LS"}}],
     "mark": {"type": "tick", "orient": "horizontal", "size": 8, "thickness": 2.5, "color": "#333333", "opacity": 1},
     "encoding": {"x": {"field": "batch", "type": "quantitative", "axis": {"values": [1,20,80,140,200,260,320,380,440,500,560,620,680], "grid": true, "labels": false, "ticks": false, "title": null}}, "y": {"field": "med", "type": "quantitative", "axis": null}}},
    {"data": {"name": "outliers"}, "transform": [{"filter": {"field": "panel", "equal": "LS"}}],
     "mark": {"type": "circle", "size": 11, "color": "#6f6f6f", "opacity": 0.65},
     "encoding": {"x": {"field": "batch", "type": "quantitative", "axis": {"values": [1,20,80,140,200,260,320,380,440,500,560,620,680], "grid": true, "labels": false, "ticks": false, "title": null}}, "y": {"field": "v", "type": "quantitative", "axis": null}}}
   ]}
 ]}
]},
{"align": "none", "spacing": 9, "hconcat": [
 {"spacing": 0, "vconcat": [
  {"width": 344, "height": 52, "view": {"fill": "#EAEAEA", "stroke": null},
   "data": {"values": [{"line": 1, "label": "small p"}, {"line": 2, "label": "uniform"}]},
   "layer": [
    {"mark": {"type": "rect", "fill": "#D9D9D9"}, "encoding": {"y": {"field": "line", "type": "ordinal", "scale": {"paddingInner": 0.03, "paddingOuter": 0},
      "axis": {"title": "regret", "labels": false, "ticks": false, "domain": false, "grid": false, "titleX": -26, "titleY": 22, "titleAngle": 270, "titleAlign": "center", "titleBaseline": "middle"}}}},
    {"mark": {"type": "text", "fontSize": 13.5, "color": "#1A1A1A", "font": "Liberation Sans"}, "encoding": {"y": {"field": "line", "type": "ordinal",
      "axis": {"title": "regret", "labels": false, "ticks": false, "domain": false, "grid": false, "titleX": -26, "titleY": 22, "titleAngle": 270, "titleAlign": "center", "titleBaseline": "middle"}}, "text": {"field": "label"}}}
   ]},
  {"width": 344, "height": 185, "view": {"fill": "#EBEBEB", "stroke": null},
   "resolve": {"axis": {"y": "independent"}},
   "layer": [
    {"data": {"name": "stats"}, "transform": [{"filter": {"field": "panel", "equal": "SU"}}],
     "mark": {"type": "rule", "color": "#333333", "strokeWidth": 1.3},
     "encoding": {
      "x": {"field": "batch", "type": "quantitative", "scale": {"domain": [-11.5, 691], "nice": false, "zero": false},
            "axis": {"values": [1,20,80,140,200,260,320,380,440,500,560,620,680], "grid": true, "labelAngle": 270, "labelOverlap": false, "labelSeparation": 0, "title": null}},
      "y": {"field": "lo", "type": "quantitative", "scale": {"type": "sqrt", "domain": [-0.009, 4.44], "nice": false, "zero": false},
            "axis": {"orient": "left", "values": [1,2,3,4], "grid": true, "title": null}},
      "y2": {"field": "hi"}}},
    {"data": {"name": "stats"}, "transform": [{"filter": {"field": "panel", "equal": "SU"}}],
     "mark": {"type": "bar", "size": 8, "fill": "white", "stroke": "#333333", "strokeWidth": 1.5},
     "encoding": {"x": {"field": "batch", "type": "quantitative", "axis": {"values": [1,20,80,140,200,260,320,380,440,500,560,620,680], "grid": true, "labelAngle": 270, "labelOverlap": false, "labelSeparation": 0, "title": null}},
      "y": {"field": "q1", "type": "quantitative", "axis": {"orient": "left", "values": [0.343,0.629,1.457,2.474,3.482], "grid": true, "gridWidth": 0.7, "labels": false, "ticks": false, "title": null}},
      "y2": {"field": "q3"}}},
    {"data": {"name": "stats"}, "transform": [{"filter": {"field": "panel", "equal": "SU"}}],
     "mark": {"type": "tick", "orient": "horizontal", "size": 8, "thickness": 2.5, "color": "#333333", "opacity": 1},
     "encoding": {"x": {"field": "batch", "type": "quantitative", "axis": {"values": [1,20,80,140,200,260,320,380,440,500,560,620,680], "grid": true, "labelAngle": 270, "labelOverlap": false, "labelSeparation": 0, "title": null}}, "y": {"field": "med", "type": "quantitative", "axis": null}}},
    {"data": {"name": "outliers"}, "transform": [{"filter": {"field": "panel", "equal": "SU"}}],
     "mark": {"type": "circle", "size": 11, "color": "#6f6f6f", "opacity": 0.65},
     "encoding": {"x": {"field": "batch", "type": "quantitative", "axis": {"values": [1,20,80,140,200,260,320,380,440,500,560,620,680], "grid": true, "labelAngle": 270, "labelOverlap": false, "labelSeparation": 0, "title": null}}, "y": {"field": "v", "type": "quantitative", "axis": null}}}
   ]}
 ]},
 {"spacing": 0, "vconcat": [
  {"width": 344, "height": 52, "view": {"fill": "#EAEAEA", "stroke": null},
   "data": {"values": [{"line": 1, "label": "small p"}, {"line": 2, "label": "perfect match"}]},
   "layer": [
    {"mark": {"type": "rect", "fill": "#D9D9D9"}, "encoding": {"y": {"field": "line", "type": "ordinal", "axis": null, "scale": {"paddingInner": 0.03, "paddingOuter": 0}}}},
    {"mark": {"type": "text", "fontSize": 13.5, "color": "#1A1A1A", "font": "Liberation Sans"}, "encoding": {"y": {"field": "line", "type": "ordinal", "axis": null}, "text": {"field": "label"}}}
   ]},
  {"width": 344, "height": 185, "view": {"fill": "#EBEBEB", "stroke": null},
   "resolve": {"axis": {"y": "independent"}},
   "layer": [
    {"data": {"name": "stats"}, "transform": [{"filter": {"field": "panel", "equal": "SP"}}],
     "mark": {"type": "rule", "color": "#333333", "strokeWidth": 1.3},
     "encoding": {
      "x": {"field": "batch", "type": "quantitative", "scale": {"domain": [-11.5, 691], "nice": false, "zero": false},
            "axis": {"values": [1,20,80,140,200,260,320,380,440,500,560,620,680], "grid": true, "labelAngle": 270, "labelOverlap": false, "labelSeparation": 0, "title": "batch", "titlePadding": 8}},
      "y": {"field": "lo", "type": "quantitative", "scale": {"type": "sqrt", "domain": [-0.009, 4.44], "nice": false, "zero": false},
            "axis": {"orient": "left", "values": [1,2,3,4], "grid": true, "labels": false, "ticks": false, "title": null}},
      "y2": {"field": "hi"}}},
    {"data": {"name": "stats"}, "transform": [{"filter": {"field": "panel", "equal": "SP"}}],
     "mark": {"type": "bar", "size": 8, "fill": "white", "stroke": "#333333", "strokeWidth": 1.5},
     "encoding": {"x": {"field": "batch", "type": "quantitative", "axis": {"values": [1,20,80,140,200,260,320,380,440,500,560,620,680], "grid": true, "labelAngle": 270, "labelOverlap": false, "labelSeparation": 0, "title": "batch", "titlePadding": 8}},
      "y": {"field": "q1", "type": "quantitative", "axis": {"orient": "left", "values": [0.343,0.629,1.457,2.474,3.482], "grid": true, "gridWidth": 0.7, "labels": false, "ticks": false, "title": null}},
      "y2": {"field": "q3"}}},
    {"data": {"name": "stats"}, "transform": [{"filter": {"field": "panel", "equal": "SP"}}],
     "mark": {"type": "tick", "orient": "horizontal", "size": 8, "thickness": 2.5, "color": "#333333", "opacity": 1},
     "encoding": {"x": {"field": "batch", "type": "quantitative", "axis": {"values": [1,20,80,140,200,260,320,380,440,500,560,620,680], "grid": true, "labelAngle": 270, "labelOverlap": false, "labelSeparation": 0, "title": "batch", "titlePadding": 8}}, "y": {"field": "med", "type": "quantitative", "axis": null}}},
    {"data": {"name": "outliers"}, "transform": [{"filter": {"field": "panel", "equal": "SP"}}],
     "mark": {"type": "circle", "size": 11, "color": "#6f6f6f", "opacity": 0.65},
     "encoding": {"x": {"field": "batch", "type": "quantitative", "axis": {"values": [1,20,80,140,200,260,320,380,440,500,560,620,680], "grid": true, "labelAngle": 270, "labelOverlap": false, "labelSeparation": 0, "title": "batch", "titlePadding": 8}}, "y": {"field": "v", "type": "quantitative", "axis": null}}}
   ]}
 ]},
 {"spacing": 0, "vconcat": [
  {"width": 344, "height": 52, "view": {"fill": "#EAEAEA", "stroke": null},
   "data": {"values": [{"line": 1, "label": "small p"}, {"line": 2, "label": "strong disagreement"}]},
   "layer": [
    {"mark": {"type": "rect", "fill": "#D9D9D9"}, "encoding": {"y": {"field": "line", "type": "ordinal", "axis": null, "scale": {"paddingInner": 0.03, "paddingOuter": 0}}}},
    {"mark": {"type": "text", "fontSize": 13.5, "color": "#1A1A1A", "font": "Liberation Sans"}, "encoding": {"y": {"field": "line", "type": "ordinal", "axis": null}, "text": {"field": "label"}}}
   ]},
  {"width": 344, "height": 185, "view": {"fill": "#EBEBEB", "stroke": null},
   "resolve": {"axis": {"y": "independent"}},
   "layer": [
    {"data": {"name": "stats"}, "transform": [{"filter": {"field": "panel", "equal": "SS"}}],
     "mark": {"type": "rule", "color": "#333333", "strokeWidth": 1.3},
     "encoding": {
      "x": {"field": "batch", "type": "quantitative", "scale": {"domain": [-11.5, 691], "nice": false, "zero": false},
            "axis": {"values": [1,20,80,140,200,260,320,380,440,500,560,620,680], "grid": true, "labelAngle": 270, "labelOverlap": false, "labelSeparation": 0, "title": null}},
      "y": {"field": "lo", "type": "quantitative", "scale": {"type": "sqrt", "domain": [-0.009, 4.44], "nice": false, "zero": false},
            "axis": {"orient": "left", "values": [1,2,3,4], "grid": true, "labels": false, "ticks": false, "title": null}},
      "y2": {"field": "hi"}}},
    {"data": {"name": "stats"}, "transform": [{"filter": {"field": "panel", "equal": "SS"}}],
     "mark": {"type": "bar", "size": 8, "fill": "white", "stroke": "#333333", "strokeWidth": 1.5},
     "encoding": {"x": {"field": "batch", "type": "quantitative", "axis": {"values": [1,20,80,140,200,260,320,380,440,500,560,620,680], "grid": true, "labelAngle": 270, "labelOverlap": false, "labelSeparation": 0, "title": null}},
      "y": {"field": "q1", "type": "quantitative", "axis": {"orient": "left", "values": [0.343,0.629,1.457,2.474,3.482], "grid": true, "gridWidth": 0.7, "labels": false, "ticks": false, "title": null}},
      "y2": {"field": "q3"}}},
    {"data": {"name": "stats"}, "transform": [{"filter": {"field": "panel", "equal": "SS"}}],
     "mark": {"type": "tick", "orient": "horizontal", "size": 8, "thickness": 2.5, "color": "#333333", "opacity": 1},
     "encoding": {"x": {"field": "batch", "type": "quantitative", "axis": {"values": [1,20,80,140,200,260,320,380,440,500,560,620,680], "grid": true, "labelAngle": 270, "labelOverlap": false, "labelSeparation": 0, "title": null}}, "y": {"field": "med", "type": "quantitative", "axis": null}}},
    {"data": {"name": "outliers"}, "transform": [{"filter": {"field": "panel", "equal": "SS"}}],
     "mark": {"type": "circle", "size": 11, "color": "#6f6f6f", "opacity": 0.65},
     "encoding": {"x": {"field": "batch", "type": "quantitative", "axis": {"values": [1,20,80,140,200,260,320,380,440,500,560,620,680], "grid": true, "labelAngle": 270, "labelOverlap": false, "labelSeparation": 0, "title": null}}, "y": {"field": "v", "type": "quantitative", "axis": null}}}
   ]}
 ]}
]}
],
"config": {
 "view": {"stroke": null},
 "axis": {"gridColor": "#FFFFFF", "gridWidth": 1.3, "domain": false, "tickColor": "#333333", "tickSize": 4.5, "tickWidth": 1.1,
          "labelColor": "#4D4D4D", "labelFont": "Liberation Sans", "labelFontSize": 12.5, "labelPadding": 3, "labelOverlap": false, "labelFlush": false, "labelBound": false,
          "titleFont": "Liberation Sans", "titleFontSize": 16.5, "titleFontWeight": "normal", "titleColor": "#000000", "titlePadding": 5},
 "text": {"font": "Liberation Sans"}
}
}
